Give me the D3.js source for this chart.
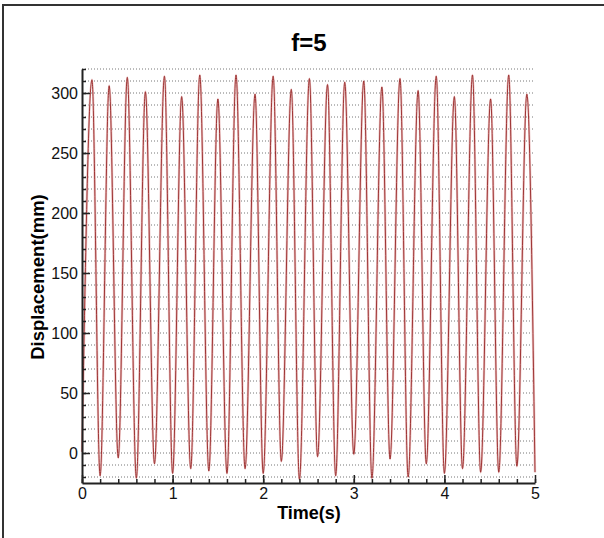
<!DOCTYPE html>
<html>
<head>
<meta charset="utf-8">
<script src="https://cdn.jsdelivr.net/npm/d3@7"></script>
<style>
  body { margin: 0; background: #fff; }
  svg { display: block; font-family: "Liberation Sans", Arial, sans-serif; }
</style>
</head>
<body>
<svg width="604" height="538"></svg>
<script>
// values
var startValue = 1;
var peakTime = [0.11, 0.30, 0.50, 0.70, 0.91, 1.10, 1.30, 1.50, 1.70, 1.91,
                2.11, 2.31, 2.51, 2.71, 2.90, 3.11, 3.31, 3.51, 3.71, 3.91,
                4.11, 4.31, 4.51, 4.71, 4.91];
var peakValue = [311, 306, 313, 301, 314, 297, 315, 295, 315, 299,
                 314, 303, 312, 307, 309, 310, 305, 312, 302, 314,
                 297, 315, 295, 315, 299];
var troughTime = [0.2, 0.4, 0.6, 0.8, 1.0, 1.2, 1.4, 1.6, 1.8, 2.0,
                  2.2, 2.4, 2.6, 2.8, 3.0, 3.2, 3.4, 3.6, 3.8, 4.0,
                  4.2, 4.4, 4.6, 4.8, 5.0];
var troughValue = [-19, -4, -21, -9, -17, -13, -15, -17, -13, -17,
                   -7, -22, -3, -19, -1, -21, -5, -20, -9, -17,
                   -13, -16, -16, -11, -16];

var xMajor = [0, 1, 2, 3, 4, 5];
var yMajor = [0, 50, 100, 150, 200, 250, 300];

var points = [{t: 0, v: startValue}];
peakTime.forEach(function(t, i) { points.push({t: t, v: peakValue[i]}); });
troughTime.forEach(function(t, i) { points.push({t: t, v: troughValue[i]}); });
points.sort(function(a, b) { return a.t - b.t; });

var svg = d3.select("svg");

var x = d3.scaleLinear().domain([0, 5]).range([82, 535]);
var y = d3.scaleLinear().domain([-25, 320]).range([483, 69]);

// outer frame (left and top only)
svg.append("path")
  .attr("d", "M3,538V5H604")
  .attr("fill", "none")
  .attr("stroke", "#333")
  .attr("stroke-width", 2);

// title
svg.append("text")
  .attr("x", 309)
  .attr("y", 51)
  .attr("text-anchor", "middle")
  .attr("font-size", 24)
  .attr("font-weight", "bold")
  .text("f=5");

// dotted horizontal grid
svg.append("g")
  .selectAll("line")
  .data(d3.range(-20, 321, 10))
  .enter()
  .append("line")
  .attr("x1", x(0))
  .attr("x2", x(5))
  .attr("y1", function(d) { return y(d); })
  .attr("y2", function(d) { return y(d); })
  .attr("stroke", "#777")
  .attr("stroke-width", 1)
  .attr("stroke-dasharray", "1,2");

// signal
var line = d3.line()
  .x(function(d) { return x(d.t); })
  .y(function(d) { return y(d.v); })
  .curve(d3.curveMonotoneX);

svg.append("path")
  .datum(points)
  .attr("d", line)
  .attr("fill", "none")
  .attr("stroke", "#ecc4c4")
  .attr("stroke-width", 2.4);

svg.append("path")
  .datum(points)
  .attr("d", line)
  .attr("fill", "none")
  .attr("stroke", "#962626")
  .attr("stroke-width", 0.9);

// minor ticks
svg.append("g")
  .attr("transform", "translate(" + x(0) + ",0)")
  .call(d3.axisLeft(y).tickValues(d3.range(-20, 321, 10)).tickSize(-4).tickFormat(""))
  .call(function(g) { g.select(".domain").remove(); });

svg.append("g")
  .attr("transform", "translate(0," + y(-25) + ")")
  .call(d3.axisBottom(x).tickValues(d3.range(0, 5.01, 0.2)).tickSize(-4).tickFormat(""))
  .call(function(g) { g.select(".domain").remove(); });

// major axes
svg.append("g")
  .attr("transform", "translate(" + x(0) + ",0)")
  .call(d3.axisLeft(y).tickValues(yMajor).tickSizeInner(-8).tickSizeOuter(0).tickPadding(4));

svg.append("g")
  .attr("transform", "translate(0," + y(-25) + ")")
  .call(d3.axisBottom(x).tickValues(xMajor).tickFormat(d3.format("d"))
    .tickSizeInner(-8).tickSizeOuter(0).tickPadding(5));

svg.selectAll(".tick line").attr("stroke", "#222").attr("stroke-width", 1.5);
svg.selectAll(".domain").attr("stroke", "#222").attr("stroke-width", 2);
svg.selectAll(".tick text")
  .attr("font-family", "Liberation Sans, Arial, sans-serif")
  .attr("font-size", 16)
  .attr("fill", "#111");

// axis titles
svg.append("text")
  .attr("x", 309)
  .attr("y", 519)
  .attr("text-anchor", "middle")
  .attr("font-size", 18)
  .attr("font-weight", "bold")
  .text("Time(s)");

svg.append("text")
  .attr("transform", "translate(44,277) rotate(-90)")
  .attr("text-anchor", "middle")
  .attr("font-size", 18.5)
  .attr("font-weight", "bold")
  .text("Displacement(mm)");
</script>
</body>
</html>
